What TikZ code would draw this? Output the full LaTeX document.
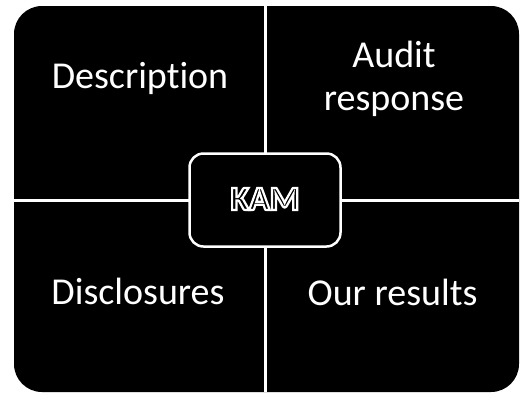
\documentclass[tikz,border=0pt]{standalone}
\usepackage{fontspec}
\setmainfont{Carlito}[Ligatures=NoCommon]
\begin{document}
\begin{tikzpicture}[x=1pt,y=-1pt,
  label/.style={text=white,font=\fontsize{38}{43}\selectfont,align=center,inner sep=0pt,anchor=base},
  divider/.style={draw=white,line width=3pt},
  hub/.style={fill=black,draw=white,line width=2.5pt,rounded corners=14pt,minimum width=151pt,minimum height=93pt},
  kamtext/.style={font=\bfseries\fontsize{34}{36}\selectfont,inner sep=0pt,anchor=base,text=black}]
\useasboundingbox (0,0) rectangle (521,394);
\fill[white] (0,0) rectangle (521,394);
% four black quadrants as one rounded panel
\node[fill=black,rounded corners=28pt,minimum width=505pt,minimum height=386pt,inner sep=0pt] (panel) at (266.5,199) {};
% dividers between the quadrants
\coordinate (top) at (265,6);
\coordinate (bottom) at (265,392);
\coordinate (left) at (14,200);
\coordinate (right) at (519,200);
\draw[divider] (top) -- (bottom);
\draw[divider] (left) -- (right);
% quadrant labels
\node[label] (desc) at (140,88) {Description};
\node[label] (audit) at (394,110) {Audit\\response};
\node[label] (disc) at (138,304) {Disclosures};
\node[label] (res) at (392.5,305) {Our results};
% central box
\node[hub] (hub) at (265,200) {};
% outlined KAM lettering: black fill, white stroke
\node[kamtext] (kam) at (265,210)
  {\special{pdf:code q 2 Tr 1 1 1 RG 2.2 w}KAM\special{pdf:code Q}};
\end{tikzpicture}
\end{document}
